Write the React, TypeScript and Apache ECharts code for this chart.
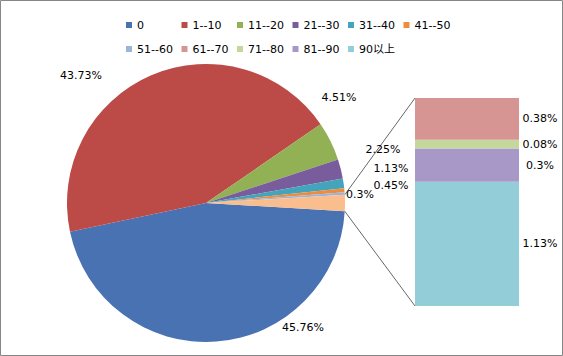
import React, { useEffect, useRef } from "react";
import * as echarts from "echarts";

const pieNames = ["0", "1--10", "11--20", "21--30", "31--40", "41--50", "51--60", "其他"];
const pieValues = [45.76, 43.73, 4.51, 2.25, 1.13, 0.45, 0.3, 1.89];
const barNames = ["90以上", "81--90", "71--80", "61--70"];
const barValues = [1.13, 0.3, 0.08, 0.38];
const legendRow1 = ["0", "1--10", "11--20", "21--30", "31--40", "41--50"];
const legendRow2 = ["51--60", "61--70", "71--80", "81--90", "90以上"];

const pieColors = ["#4872B2", "#BC4A47", "#91B154", "#785C9C", "#44A4BC", "#EE8C3D", "#9CB3DA", "#F9BD8E"];
const barColors = ["#93CDD8", "#A898C8", "#C4D89E", "#D69592"];
const labelPos: [number, number][] = [
  [303, 327],
  [81, 75],
  [339, 97],
  [383, 149],
  [391, 168],
  [391, 185],
  [360, 194],
  [0, 0],
];

const FONT = "DejaVu Sans, Noto Sans CJK SC, sans-serif";
const CX = 206;
const CY = 203;
const R = 139;

export default function App() {
  const ref = useRef<HTMLDivElement>(null);
  useEffect(() => {
    const chart = echarts.init(ref.current!, null, { renderer: "svg" });
    const total = pieValues.reduce((a, b) => a + b, 0);
    const otherVal = pieValues[pieValues.length - 1];
    const half = (otherVal / total) * 180;
    const barTotal = barValues.reduce((a, b) => a + b, 0);

    const legendCommon = {
      orient: "horizontal" as const,
      left: 121,
      itemWidth: 6,
      itemHeight: 6,
      itemGap: 5,
      icon: "rect",
      selectedMode: false,
      textStyle: { fontFamily: FONT, fontSize: 11, color: "#000", width: 39.5, lineHeight: 12 },
    };

    chart.setOption({
      animation: false,
      backgroundColor: "#fff",
      legend: [
        { ...legendCommon, top: 14, data: legendRow1 },
        { ...legendCommon, top: 38, data: legendRow2 },
      ],
      grid: { left: 415, top: 98, width: 104, height: 208 },
      xAxis: { type: "category", data: ["x"], show: false },
      yAxis: { type: "value", min: 0, max: barTotal, show: false },
      series: [
        {
          type: "pie",
          center: [CX, CY],
          radius: R,
          startAngle: -half,
          clockwise: true,
          avoidLabelOverlap: false,
          data: pieNames.map((n, i) => ({
            name: n,
            value: pieValues[i],
            itemStyle: { color: pieColors[i] },
            label: { show: i < pieNames.length - 1 },
          })),
          label: {
            position: "outside",
            formatter: "{c}%",
            fontFamily: FONT,
            fontSize: 11,
            color: "#000",
          },
          labelLine: { show: false },
          labelLayout: (p: any) => ({
            x: labelPos[p.dataIndex][0],
            y: labelPos[p.dataIndex][1],
            align: "center",
            verticalAlign: "middle",
          }),
          emphasis: { disabled: true },
        },
        ...barNames.map((n, i) => ({
          type: "bar",
          name: n,
          stack: "other",
          data: [barValues[i]],
          barWidth: "100%",
          itemStyle: { color: barColors[i] },
          label: {
            show: true,
            position: [125, "50%"],
            align: "center",
            verticalAlign: "middle",
            formatter: "{c}%",
            fontFamily: FONT,
            fontSize: 11,
            color: "#000",
          },
          emphasis: { disabled: true },
        })),
      ],
    });

    const topLeft = chart.convertToPixel({ gridIndex: 0 }, ["x", barTotal]) as number[];
    const botLeft = chart.convertToPixel({ gridIndex: 0 }, ["x", 0]) as number[];
    const barLeft = 415;
    const rad = (half * Math.PI) / 180;
    const p1 = [CX + R * Math.cos(rad), CY - R * Math.sin(rad)];
    const p2 = [CX + R * Math.cos(rad), CY + R * Math.sin(rad)];
    chart.setOption({
      graphic: [
        {
          type: "rect",
          shape: { x: 0.5, y: 0.5, width: 562, height: 355 },
          style: { fill: "none", stroke: "#868686", lineWidth: 1 },
          silent: true,
        },
        {
          type: "line",
          shape: { x1: p1[0], y1: p1[1], x2: barLeft, y2: topLeft[1] },
          style: { stroke: "#404040", lineWidth: 0.8 },
          silent: true,
        },
        {
          type: "line",
          shape: { x1: p2[0], y1: p2[1], x2: barLeft, y2: botLeft[1] },
          style: { stroke: "#404040", lineWidth: 0.8 },
          silent: true,
        },
      ],
    });
    return () => chart.dispose();
  }, []);
  return (
    <div
      ref={ref}
      style={{ position: "fixed", left: 0, top: 0, width: 563, height: 356 }}
    />
  );
}
